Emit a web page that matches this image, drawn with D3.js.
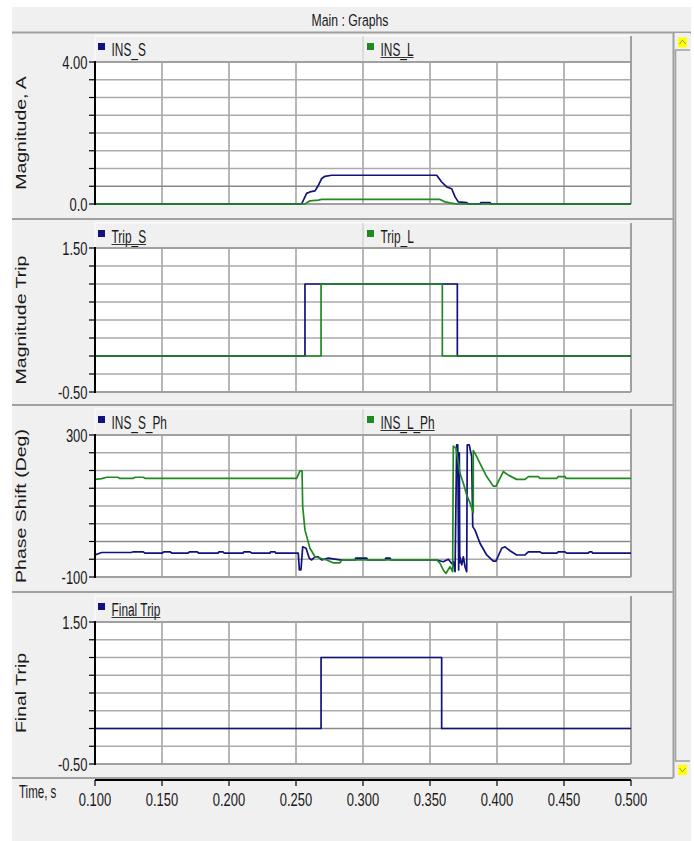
<!DOCTYPE html>
<html>
<head>
<meta charset="utf-8">
<script src="https://cdn.jsdelivr.net/npm/d3@7"></script>
<style>
  body { margin: 0; background: #fff; }
  svg { display: block; }
  text { font-family: "Liberation Sans", Arial, sans-serif; fill: #1a1a1a; }
</style>
</head>
<body>
<svg width="694" height="841"></svg>
<script>
// ---- данные ----
const timeTicks = [0.100, 0.150, 0.200, 0.250, 0.300, 0.350, 0.400, 0.450, 0.500];

const magDomain = [0, 4];
const magLabels = ["4.00", "0.0"];
const tripDomain = [-0.5, 1.5];
const tripLabels = ["1.50", "-0.50"];
const phDomain = [-100, 300];
const phLabels = ["300", "-100"];

// [время, значение]
const insS = [[0.100,0],[0.2542,0],[0.2579,0.30],[0.2604,0.34],[0.2642,0.37],[0.2666,0.52],
  [0.2692,0.72],[0.2716,0.78],[0.2766,0.81],[0.3550,0.81],[0.3587,0.62],[0.3625,0.48],
  [0.3662,0.43],[0.3687,0.20],[0.3711,0.06],[0.3774,0.04],[0.3786,0],[0.3873,0],
  [0.3880,0.04],[0.3948,0.04],[0.3955,0],[0.500,0]];
const insL = [[0.100,0],[0.2567,0],[0.2604,0.09],[0.2666,0.11],[0.2692,0.13],[0.3575,0.13],
  [0.3612,0.06],[0.3649,0.03],[0.3699,0],[0.500,0]];

// ступеньки: точки смены уровня
const tripS = [[0.100,0],[0.2567,1],[0.3704,0],[0.500,0]];
const tripL = [[0.100,0],[0.2687,1],[0.3592,0],[0.500,0]];
const finalTrip = [[0.100,0],[0.2687,1],[0.3587,0],[0.500,0]];

const insSPh = [[0.100,-38],[0.105,-31],[0.1269,-31],[0.1286,-29],[0.1360,-29],[0.1373,-33],
  [0.150,-33],[0.1515,-29],[0.156,-29],[0.1575,-33],[0.1694,-33],[0.1705,-29],[0.1761,-29],
  [0.1775,-33],[0.1918,-33],[0.1925,-29],[0.1955,-29],[0.1965,-33],[0.2104,-33],[0.211,-29],
  [0.2157,-29],[0.217,-33],[0.2306,-33],[0.231,-29],[0.2343,-29],[0.235,-33],[0.2517,-33],
  [0.2525,-80],[0.2537,-80],[0.2550,-15],[0.2575,-19],[0.2599,-47],[0.2617,-52],[0.2642,-43],
  [0.2666,-43],[0.2692,-52],[0.2741,-47],[0.2828,-52],[0.2940,-52],[0.2945,-47],[0.3028,-47],
  [0.3035,-52],[0.3164,-52],[0.317,-47],[0.3201,-47],[0.321,-52],[0.3550,-52],[0.3599,-57],
  [0.3637,-50],[0.3662,-62],[0.3674,-57],[0.3687,-85],[0.3699,272],[0.3707,272],[0.3714,-80],
  [0.3719,250],[0.3722,-60],[0.3724,-43],[0.3737,-66],[0.3749,-43],[0.3761,-71],[0.3774,-85],
  [0.3778,272],[0.3793,272],[0.3811,239],[0.3819,42],[0.3836,32],[0.3873,-5],[0.3923,-38],
  [0.3972,-55],[0.3993,-55],[0.4035,-19],[0.4060,-15],[0.4097,-26],[0.4147,-38],[0.4209,-38],
  [0.4234,-29],[0.4321,-29],[0.4334,-33],[0.4446,-33],[0.4457,-29],[0.4507,-29],[0.4520,-33],
  [0.4681,-33],[0.4690,-29],[0.4707,-29],[0.4715,-33],[0.500,-33]];
const insLPh = [[0.100,175],[0.105,177],[0.1087,181],[0.1174,181],[0.118,178],[0.1286,178],
  [0.130,181],[0.136,181],[0.1373,178],[0.2505,178],[0.2530,199],[0.2545,199],[0.2550,98],
  [0.2567,32],[0.2604,-19],[0.2642,-43],[0.2729,-52],[0.2776,-60],[0.2828,-60],[0.2840,-52],
  [0.3550,-52],[0.3574,-61],[0.3599,-80],[0.3619,-90],[0.3649,-71],[0.3669,-85],[0.3674,269],
  [0.3694,262],[0.3724,192],[0.3749,164],[0.3774,131],[0.3799,108],[0.3823,81],[0.3823,256],
  [0.3836,248],[0.3873,220],[0.3923,183],[0.3972,156],[0.3993,156],[0.4047,197],[0.4084,187],
  [0.4147,175],[0.4209,175],[0.4234,183],[0.4308,183],[0.4321,178],[0.4446,178],[0.4457,183],
  [0.4507,183],[0.4515,178],[0.500,178]];

// ---- оформление ----
const BLUE = "#12127e", GREEN = "#1f8a1f";
const GRID = "#ababab", FRAME = "#a0a0a0", BG = "#f0f0f0";
const x0 = 95, x1 = 631;

const panels = [
  { title: "Magnitude, A", domain: magDomain, labels: magLabels, top: 32, plot: [62, 204], bottom: 219, emph: 0.5,
    series: [{ name: "INS_S", data: insS, color: BLUE, under: false },
             { name: "INS_L", data: insL, color: GREEN, under: true }] },
  { title: "Magnitude Trip", domain: tripDomain, labels: tripLabels, top: 219, plot: [248, 392], bottom: 405, emph: 0, step: true,
    series: [{ name: "Trip_S", data: tripS, color: BLUE, under: true },
             { name: "Trip_L", data: tripL, color: GREEN, under: false }] },
  { title: "Phase Shift (Deg)", domain: phDomain, labels: phLabels, top: 405, plot: [435, 577], bottom: 592, emph: 0,
    series: [{ name: "INS_S_Ph", data: insSPh, color: BLUE, under: false },
             { name: "INS_L_Ph", data: insLPh, color: GREEN, under: true }] },
  { title: "Final Trip", domain: tripDomain, labels: tripLabels, top: 592, plot: [622, 764], bottom: 778, emph: 0, step: true,
    series: [{ name: "Final Trip", data: finalTrip, color: BLUE, under: true }] }
];

const svg = d3.select("svg");
const x = d3.scaleLinear().domain([0.1, 0.5]).range([x0, x1]);

// узкий текст: исходный скриншот сжат по горизонтали
function narrowText(g, px, py, str, anchor, size, sx) {
  return g.append("text")
    .attr("transform", `translate(${px},${py}) scale(${sx},1)`)
    .attr("text-anchor", anchor)
    .attr("font-size", size)
    .text(str);
}

function hline(g, xa, xb, y, color, w) {
  g.append("line").attr("x1", xa).attr("x2", xb).attr("y1", y).attr("y2", y)
    .attr("stroke", color).attr("stroke-width", w);
}
function vline(g, xx, ya, yb, color, w) {
  g.append("line").attr("x1", xx).attr("x2", xx).attr("y1", ya).attr("y2", yb)
    .attr("stroke", color).attr("stroke-width", w);
}

// окно
svg.append("rect").attr("x", 12).attr("y", 7).attr("width", 679).attr("height", 834).attr("fill", BG);
narrowText(svg, 350, 26, "Main : Graphs", "middle", 17, 0.72);
hline(svg, 12, 691, 32.5, FRAME, 2);

panels.forEach((p, i) => {
  const g = svg.append("g");
  const [pt, pb] = p.plot;
  const y = d3.scaleLinear().domain(p.domain).range([pb, pt]);
  const yTicks = d3.range(9).map(k => p.domain[0] + k * (p.domain[1] - p.domain[0]) / 8);

  // полоса легенды
  const lt = p.top + 4;
  g.append("rect").attr("x", x0).attr("y", lt).attr("width", x1 - x0).attr("height", pt - lt).attr("fill", BG);
  hline(g, x0, x1, lt, "#fff", 1);
  vline(g, x0, lt, pt, "#fff", 1);
  if (p.series.length > 1) vline(g, 363, lt, pt, "#c8c8c8", 1);
  vline(g, x1, lt, pb, FRAME, 2);

  const legX = [98, 367];
  p.series.forEach((s, k) => {
    g.append("rect").attr("x", legX[k]).attr("y", lt + 7).attr("width", 7).attr("height", 7).attr("fill", s.color);
    const t = narrowText(g, legX[k] + 13.5, lt + 19.5, s.name, "start", 18, 0.66);
    if (s.under) {
      const len = t.node().getComputedTextLength() * 0.66;
      hline(g, legX[k] + 13.5, legX[k] + 13.5 + len, lt + 21.5, "#333", 1);
    }
  });

  // поле графика
  g.append("rect").attr("x", x0).attr("y", pt).attr("width", x1 - x0).attr("height", pb - pt).attr("fill", "#fff");
  timeTicks.slice(1, -1).forEach(t => vline(g, x(t), pt, pb, GRID, 1.7));
  yTicks.slice(1, -1).forEach(v => hline(g, x0, x1, y(v), Math.abs(v - p.emph) < 1e-9 ? "#8a8a8a" : GRID, 1.7));
  hline(g, x0, x1, pt, FRAME, 2);
  hline(g, x0, x1, pb, FRAME, 2);
  vline(g, x1, pt, pb, FRAME, 2);

  const clipId = "clip" + i;
  g.append("clipPath").attr("id", clipId).append("rect")
    .attr("x", x0).attr("y", pt - 1).attr("width", x1 - x0).attr("height", pb - pt + 2);

  const line = d3.line()
    .x(d => x(d[0]))
    .y(d => y(d[1]))
    .curve(p.step ? d3.curveStepAfter : d3.curveLinear);

  p.series.forEach(s => {
    g.append("path")
      .attr("d", line(s.data))
      .attr("clip-path", `url(#${clipId})`)
      .attr("fill", "none")
      .attr("stroke", s.color)
      .attr("stroke-width", 1.7)
      .attr("stroke-linejoin", "round");
  });

  // левая ось
  vline(g, x0, pt - 1, pb + 1, "#000", 2);
  yTicks.forEach(v => hline(g, 89, x0, y(v), "#000", 1.2));
  narrowText(g, 87.5, pt + 6.5, p.labels[0], "end", 18, 0.72);
  narrowText(g, 87.5, pb + 6.5, p.labels[1], "end", 18, 0.72);

  // подпись оси Y
  g.append("text")
    .attr("transform", `translate(20.5,${(pt + pb) / 2}) scale(0.75,1) rotate(-90)`)
    .attr("text-anchor", "middle")
    .attr("dy", "0.35em")
    .attr("font-size", 19.5)
    .text(p.title);

  // разделитель панелей
  hline(svg, 12, 673, p.bottom, FRAME, 2);
});

// ось времени
const axisG = svg.append("g");
hline(axisG, x0, x1, 780, "#000", 2);
timeTicks.forEach(t => {
  vline(axisG, x(t), 780, 786, "#000", 1.2);
  narrowText(axisG, x(t), 805.5, d3.format(".3f")(t), "middle", 18.5, 0.7);
});
narrowText(axisG, 19, 798, "Time, s", "start", 18, 0.64);

// полоса прокрутки
const sb = svg.append("g");
vline(sb, 673.5, 32, 778, FRAME, 2);
sb.append("rect").attr("x", 675).attr("y", 33).attr("width", 15).attr("height", 745).attr("fill", BG);
vline(sb, 675.5, 50, 761, FRAME, 1.5);
hline(sb, 675, 690, 50, FRAME, 1.5);
hline(sb, 675, 690, 761, FRAME, 1.5);
[[678, 37.5, "M679.5,44 L682.5,40 L685.5,44"], [678, 765, "M679.5,768 L682.5,772 L685.5,768"]].forEach(b => {
  sb.append("rect").attr("x", b[0]).attr("y", b[1]).attr("width", 9).attr("height", 10).attr("fill", "#ffff00");
  sb.append("path").attr("d", b[2]).attr("fill", "none").attr("stroke", "#9a9a60").attr("stroke-width", 1);
});
</script>
</body>
</html>
